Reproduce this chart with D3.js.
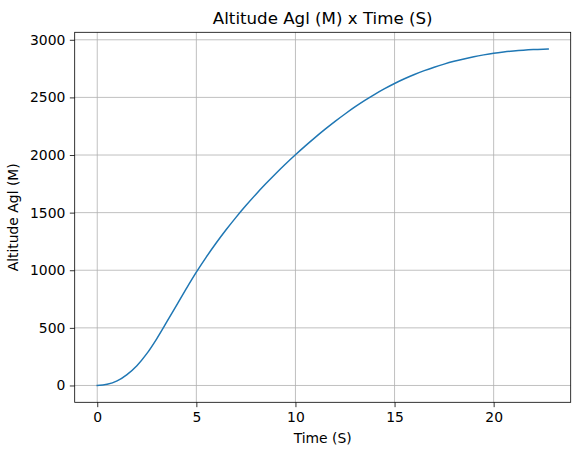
<!DOCTYPE html>
<html>
<head>
<meta charset="utf-8">
<script src="https://cdn.jsdelivr.net/npm/d3@7"></script>
<style>
  html, body { margin: 0; padding: 0; background: #fff; }
  svg { display: block; }
  text { font-family: "DejaVu Sans", sans-serif; fill: #000; }
</style>
</head>
<body>
<svg id="chart" width="580" height="455"></svg>
<script>
// Data
const timeS = [0, 0.5, 1.0, 1.5, 2.0, 2.5, 3.0, 3.5, 4.0, 4.5, 5.0, 5.5, 6.0, 6.5, 7.0, 7.5, 8.0, 8.5, 9.0, 9.5, 10.0,
  10.5, 11.0, 11.5, 12.0, 12.5, 13.0, 13.5, 14.0, 14.5, 15.0, 15.5, 16.0, 16.5, 17.0, 17.5, 18.0, 18.5, 19.0, 19.5,
  20.0, 20.5, 21.0, 21.5, 22.0, 22.5, 22.75];
const altitudeM = [0, 10, 40, 95, 172, 276, 405, 549, 696, 842, 983, 1114, 1236, 1351, 1459, 1561, 1658, 1750, 1838, 1922, 2002,
  2079, 2153, 2224, 2292, 2356, 2417, 2474, 2527, 2576, 2621, 2662, 2699, 2732, 2762, 2789, 2813, 2834, 2853, 2869,
  2883, 2894, 2903, 2910, 2915, 2918, 2919];
const xTicks = [0, 5, 10, 15, 20];
const yTicks = [0, 500, 1000, 1500, 2000, 2500, 3000];
const titleText = "Altitude Agl (M) x Time (S)";
const xLabelText = "Time (S)";
const yLabelText = "Altitude Agl (M)";

const svg = d3.select("#chart");
const m = { left: 74.7, right: 570.7, top: 32.3, bottom: 402.3 };

const xMin = d3.min(timeS), xMax = d3.max(timeS);
const yMin = d3.min(altitudeM), yMax = d3.max(altitudeM);
const xPad = (xMax - xMin) * 0.05, yPad = (yMax - yMin) * 0.05;

const x = d3.scaleLinear().domain([xMin - xPad, xMax + xPad]).range([m.left, m.right]);
const y = d3.scaleLinear().domain([yMin - yPad, yMax + yPad]).range([m.bottom, m.top]);

const data = timeS.map((t, i) => ({ t, a: altitudeM[i] }));

// grid
const grid = svg.append("g");
grid.selectAll(".gx").data(xTicks).enter().append("line")
  .attr("x1", d => x(d)).attr("x2", d => x(d))
  .attr("y1", m.top).attr("y2", m.bottom)
  .attr("stroke", "#b0b0b0").attr("stroke-width", 0.8);
grid.selectAll(".gy").data(yTicks).enter().append("line")
  .attr("y1", d => y(d)).attr("y2", d => y(d))
  .attr("x1", m.left).attr("x2", m.right)
  .attr("stroke", "#b0b0b0").attr("stroke-width", 0.8);

// line
svg.append("path").datum(data)
  .attr("fill", "none").attr("stroke", "#1f77b4").attr("stroke-width", 1.5)
  .attr("stroke-linejoin", "round").attr("stroke-linecap", "square")
  .attr("d", d3.line().x(d => x(d.t)).y(d => y(d.a)).curve(d3.curveMonotoneX));

// axes
const xAxis = d3.axisBottom(x).tickValues(xTicks).tickSize(4.86).tickPadding(4.5).tickFormat(d3.format("d"));
const yAxis = d3.axisLeft(y).tickValues(yTicks).tickSize(4.86).tickPadding(4.5).tickFormat(d3.format("d"));

const gx = svg.append("g").attr("transform", `translate(0,${m.bottom})`).call(xAxis);
const gy = svg.append("g").attr("transform", `translate(${m.left},0)`).call(yAxis);
[gx, gy].forEach(g => {
  g.select(".domain").remove();
  g.selectAll(".tick line").attr("stroke", "#000").attr("stroke-width", 0.8);
  g.selectAll(".tick text").attr("font-family", "DejaVu Sans").attr("font-size", "13.9px").attr("fill", "#000");
});

// frame
svg.append("rect")
  .attr("x", m.left).attr("y", m.top)
  .attr("width", m.right - m.left).attr("height", m.bottom - m.top)
  .attr("fill", "none").attr("stroke", "#000").attr("stroke-width", 0.8);

// title and labels
svg.append("text").attr("x", (m.left + m.right) / 2).attr("y", 24)
  .attr("text-anchor", "middle").attr("font-size", "16.67px").text(titleText);
svg.append("text").attr("x", (m.left + m.right) / 2).attr("y", 442.5)
  .attr("text-anchor", "middle").attr("font-size", "13.9px").text(xLabelText);
svg.append("text")
  .attr("transform", `translate(17.5,${(m.top + m.bottom) / 2}) rotate(-90)`)
  .attr("text-anchor", "middle").attr("font-size", "13.9px").text(yLabelText);
</script>
</body>
</html>
